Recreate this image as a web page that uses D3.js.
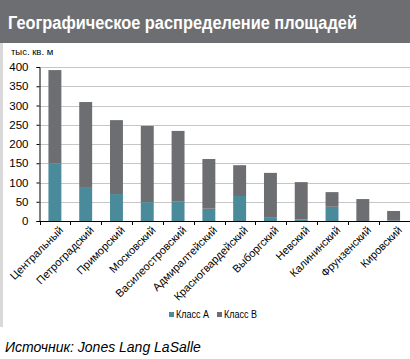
<!DOCTYPE html>
<html><head><meta charset="utf-8">
<script src="https://cdn.jsdelivr.net/npm/d3@7"></script>
<style>body{margin:0;background:#fff;}svg{display:block;font-family:"Liberation Sans",Arial,sans-serif;}</style>
</head><body>
<svg id="c" width="410" height="359"></svg>
<script>
const categories = ["Центральный","Петроградский","Приморский","Московский","Василеостровский","Адмиралтейский","Красногвардейский","Выборгский","Невский","Калининский","Фрунзенский","Кировский"];
const classA = [150, 86, 70, 49, 50, 32, 65, 10, 4, 37, 0, 1];
const classB = [242, 223, 192, 198, 184, 129, 80, 115, 97, 38, 57, 25];
const yTicks = [0,50,100,150,200,250,300,350,400];
const seriesNames = ["Класс А","Класс В"];
const colors = ["#4a8b9b","#6d6e71"];

const svg = d3.select("#c");
// title bar
svg.append("rect").attr("x",0).attr("y",0).attr("width",410).attr("height",43).attr("fill","#6d6e71");
svg.append("text").attr("x",8).attr("y",29).attr("fill","#fff").attr("font-size",18).attr("font-weight","bold")
  .attr("textLength",349).attr("lengthAdjust","spacingAndGlyphs").text("Географическое распределение площадей");
// left panel border
svg.append("rect").attr("x",0).attr("y",43).attr("width",3).attr("height",284).attr("fill","#d9d9d9");

const x = d3.scaleBand().domain(categories).range([39.5,409]).paddingInner(0.58).paddingOuter(0.29);
const y = d3.scaleLinear().domain([0,400]).range([221,67]);

// gridlines
svg.append("g").selectAll("line").data(yTicks.filter(d=>d>0)).join("line")
  .attr("x1",40).attr("x2",410).attr("y1",d=>Math.round(y(d))+0.5).attr("y2",d=>Math.round(y(d))+0.5)
  .attr("stroke","#c6c6c6").attr("stroke-width",1);

const stackData = categories.map((c,i)=>({cat:c, a:classA[i], b:classB[i]}));
const stack = d3.stack().keys(["a","b"])(stackData);
svg.append("g").selectAll("g").data(stack).join("g").attr("fill",(d,i)=>colors[i])
  .selectAll("rect").data(d=>d).join("rect")
  .attr("x",d=>x(d.data.cat)).attr("width",x.bandwidth())
  .attr("y",d=>y(d[1])).attr("height",d=>y(d[0])-y(d[1]));

// y axis
const ya = svg.append("g").attr("transform","translate(39.5,0)")
  .call(d3.axisLeft(y).tickValues(yTicks).tickSize(3).tickPadding(8));
ya.select(".domain").attr("stroke","#000");
ya.selectAll("text").attr("font-size",11.5).attr("fill","#000");
ya.selectAll(".tick line").attr("stroke","#000");

// x axis
const xs = d3.scalePoint().domain(d3.range(categories.length+1)).range([39.5,409.5]);
const xg = svg.append("g");
xg.append("line").attr("x1",39.5).attr("x2",410).attr("y1",221.5).attr("y2",221.5).attr("stroke","#000");
xg.selectAll("line.t").data(d3.range(categories.length+1)).join("line").attr("class","t")
  .attr("x1",d=>Math.round(xs(d))+0.5).attr("x2",d=>Math.round(xs(d))+0.5).attr("y1",221).attr("y2",225).attr("stroke","#000");
xg.selectAll("text").data(categories).join("text")
  .attr("transform",d=>`translate(${x(d)+x.bandwidth()/2+9},${231}) rotate(-45)`)
  .attr("text-anchor","end").attr("font-size",11).attr("fill","#000").text(d=>d);

svg.append("text").attr("x",11).attr("y",55).attr("font-size",9.5).text("тыс. кв. м");

// legend
const lg = svg.append("g").attr("transform","translate(169,312)");
const items = lg.selectAll("g").data(seriesNames).join("g").attr("transform",(d,i)=>`translate(${i*48},0)`);
items.append("rect").attr("width",5).attr("height",5).attr("fill",(d,i)=>colors[i]);
items.append("text").attr("x",7).attr("y",6).attr("font-size",10).attr("textLength",33).attr("lengthAdjust","spacingAndGlyphs").text(d=>d);

svg.append("text").attr("x",5).attr("y",352).attr("font-size",14).attr("font-style","italic").text("Источник: Jones Lang LaSalle");
</script>
</body></html>
